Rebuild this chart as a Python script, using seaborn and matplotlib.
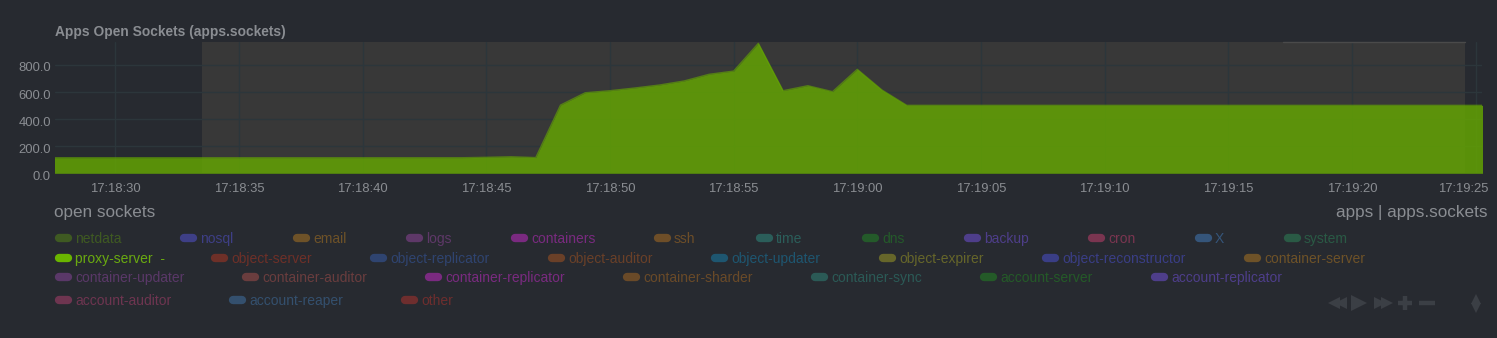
import matplotlib
matplotlib.use("Agg")
import matplotlib.pyplot as plt
import numpy as np
import pandas as pd
import seaborn as sns
from matplotlib.lines import Line2D
from matplotlib.ticker import FixedLocator, FixedFormatter
from matplotlib.transforms import ScaledTranslation

# ---------------- data ----------------
# seconds after 17:18:00
seconds = [27, 44, 45, 46, 47, 48, 49, 50, 51, 52, 53, 54, 55, 56, 57, 58, 59, 60, 61, 62, 86]
sockets = [115, 115, 118, 122, 116, 504, 595, 610, 630, 652, 682, 731, 755, 960, 610, 647, 603, 768, 615, 502, 502]

tick_seconds = [30, 35, 40, 45, 50, 55, 60, 65, 70, 75, 80, 85]
tick_labels = ["17:18:30", "17:18:35", "17:18:40", "17:18:45", "17:18:50", "17:18:55",
               "17:19:00", "17:19:05", "17:19:10", "17:19:15", "17:19:20", "17:19:25"]
y_ticks = [0, 200, 400, 600, 800]
y_tick_labels = ["0.0", "200.0", "400.0", "600.0", "800.0"]

title = "Apps Open Sockets (apps.sockets)"
units = "open sockets"
context = "apps | apps.sockets"

legend_row1 = ["netdata", "nosql", "email", "logs", "containers", "ssh", "time", "dns",
               "backup", "cron", "X", "system"]
legend_row2 = ["proxy-server  -", "object-server", "object-replicator", "object-auditor",
               "object-updater", "object-expirer", "object-reconstructor", "container-server"]
legend_row3 = ["container-updater", "container-auditor", "container-replicator",
               "container-sharder", "container-sync", "account-server", "account-replicator"]
legend_row4 = ["account-auditor", "account-reaper", "other"]

# ---------------- style ----------------
BG = "#272a30"
HILITE = "#383838"
GRID = "#2c363b"
TXT = "#8a8d92"
GREEN = "#66AA00"

colors_row1 = ["#3f5a22", "#3e3f86", "#6e5228", "#5e3868", "#7a2a80", "#6e4e28", "#2b5e5a",
               "#245a2a", "#4e3e8a", "#7a3550", "#35557a", "#2a5a45"]
colors_row2 = ["#6ab500", "#6e3028", "#2f4470", "#6a4028", "#1e5670", "#66662a", "#3a3e86", "#6e5228"]
colors_row3 = ["#5a3868", "#6a3d3e", "#7a2a80", "#6a4a28", "#2b5a56", "#245a28", "#4e3e8a"]
colors_row4 = ["#6e3550", "#34506e", "#6e2e2e"]

x_row1 = [55, 180, 293, 406, 511, 654, 756, 862, 964, 1088, 1195, 1284]
x_row2 = [55, 211, 370, 548, 711, 879, 1042, 1244]
x_row3 = [55, 242, 425, 623, 811, 980, 1151]
x_row4 = [55, 229, 401]

sns.set_theme(style="dark")
plt.rcParams["font.family"] = ["Liberation Sans", "DejaVu Sans"]

W, H = 1497, 338
fig = plt.figure(figsize=(W / 100, H / 100), dpi=100, facecolor=BG)


def fx(px):
    return px / W


def fy(py):
    return 1 - py / H


top_px, bot_px, left_px, right_px = 41.7, 173.3, 55, 1482
ax = fig.add_axes([fx(left_px), fy(bot_px), fx(right_px - left_px), (bot_px - top_px) / H])
ax.set_facecolor(BG)

# highlighted region
ax.axvspan(33.5, 84.58, color=HILITE, zorder=0, lw=0)

df = pd.DataFrame({"t": seconds, "v": sockets})
ax.fill_between(df["t"], 0, df["v"], color=GREEN, alpha=0.8, lw=0, zorder=3)
sns.lineplot(data=df, x="t", y="v", ax=ax, color=GREEN, alpha=0.6, lw=1, zorder=4)

ax.set_xlim(27.56, 85.26)
ax.set_ylim(0, 972)
ax.xaxis.set_major_locator(FixedLocator(tick_seconds))
ax.xaxis.set_major_formatter(FixedFormatter(tick_labels))
ax.yaxis.set_major_locator(FixedLocator(y_ticks))
ax.yaxis.set_major_formatter(FixedFormatter(y_tick_labels))
ax.grid(True, color=GRID, lw=1, zorder=1)
ax.set_axisbelow(True)
for s in ax.spines.values():
    s.set_visible(False)
ax.tick_params(axis="both", length=0, colors=TXT, labelsize=9.4)
ax.tick_params(axis="x", pad=7)
ax.tick_params(axis="y", pad=3)
ax.set_xlabel("")
ax.set_ylabel("")
fig.canvas.draw()
shift_down = ScaledTranslation(0, -2 / 100, fig.dpi_scale_trans)
for lbl in ax.get_yticklabels():
    lbl.set_transform(lbl.get_transform() + shift_down)
last_tick = ax.xaxis.get_major_ticks()[-1]
last_tick.label1.set_transform(last_tick.label1.get_transform()
                               + ScaledTranslation(-12 / 100, 0, fig.dpi_scale_trans))

# thin highlight border near right
ax.plot([77.2, 84.58], [971, 971], color="#4a4a4a", lw=1, zorder=5, clip_on=False)

# title and header texts
fig.text(fx(55), fy(32), title, color=TXT, fontsize=9.9, fontweight="bold", va="center", ha="left")
fig.text(fx(54), fy(212), units, color=TXT, fontsize=12.3, va="center", ha="left")
fig.text(fx(1488), fy(212), context, color=TXT, fontsize=12.3, va="center", ha="right")

# legend
rows = [(legend_row1, colors_row1, x_row1, 238),
        (legend_row2, colors_row2, x_row2, 258),
        (legend_row3, colors_row3, x_row3, 277),
        (legend_row4, colors_row4, x_row4, 300)]
for names, cols, xs, yy in rows:
    for name, col, x0 in zip(names, cols, xs):
        fig.add_artist(Line2D([fx(x0 + 4), fx(x0 + 13)], [fy(yy), fy(yy)], lw=6,
                              solid_capstyle="round", color=col, transform=fig.transFigure))
        tcol = "#6aaa10" if col == "#6ab500" else col
        fig.text(fx(x0 + 20), fy(yy + 1), name, color=tcol, fontsize=10, va="center", ha="left")

# navigation icons (drawn as markers)
ICON = "#3b3f45"


def icon(px, py, marker, size, mew=0):
    fig.add_artist(Line2D([fx(px)], [fy(py)], marker=marker, markersize=size, color=ICON,
                          markeredgecolor=ICON, markeredgewidth=mew, linestyle="none",
                          transform=fig.transFigure))


icon(1334, 303, "<", 8)
icon(1341, 303, "<", 8)
icon(1359, 303, ">", 11)
icon(1380, 303, ">", 8)
icon(1387, 303, ">", 8)
icon(1404.5, 303, "+", 10, 3.2)
icon(1426.5, 303, "_", 11, 3.2)
icon(1476, 298.5, "^", 7)
icon(1476, 307.5, "v", 7)

fig.savefig("out.png", dpi=100, facecolor=BG)
